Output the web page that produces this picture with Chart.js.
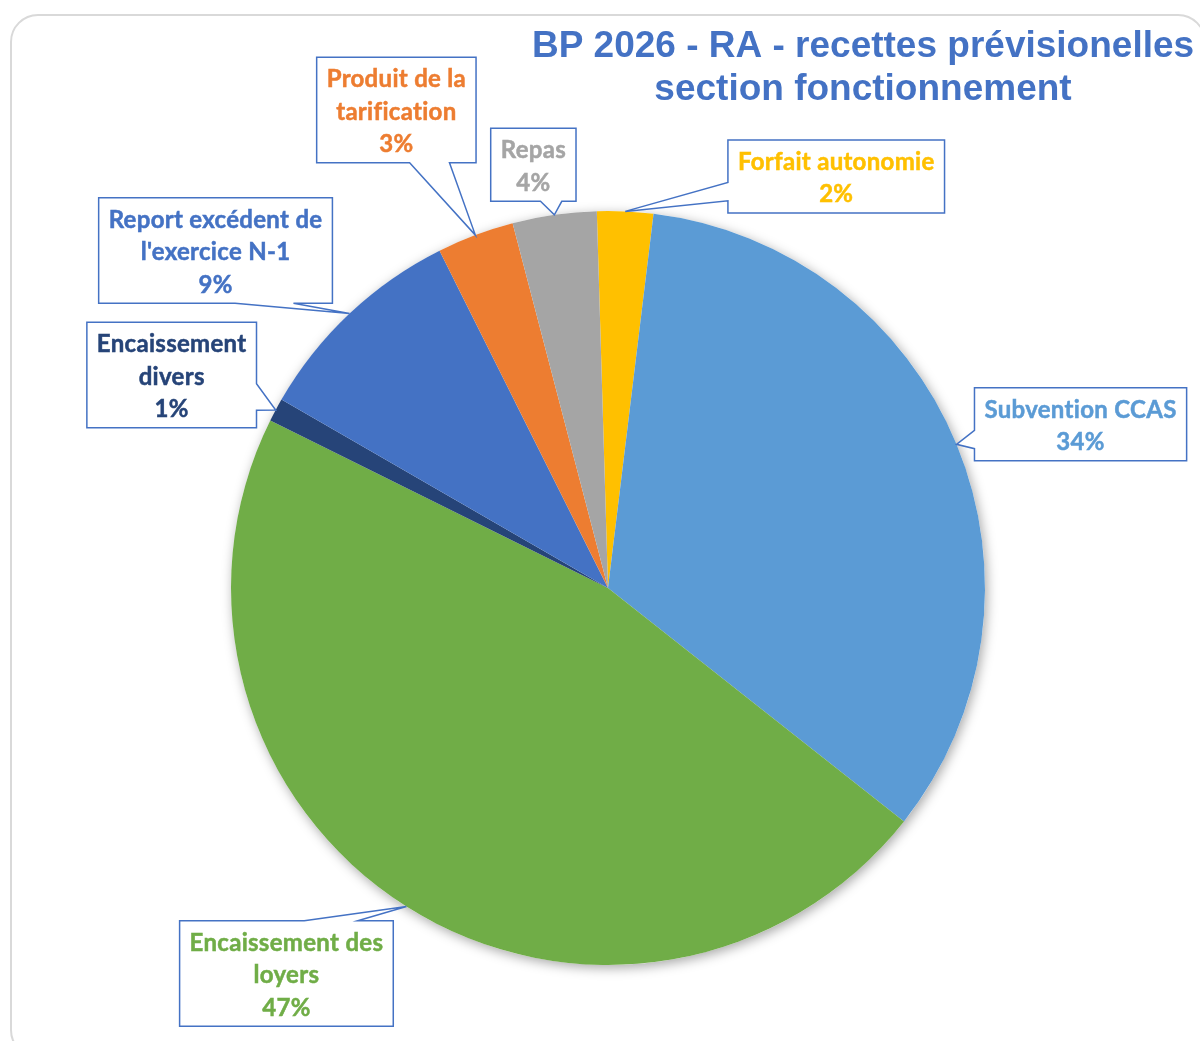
<!DOCTYPE html>
<html>
<head>
<meta charset="utf-8">
<title>BP 2026 - RA - recettes prévisionelles</title>
<script src="https://cdn.jsdelivr.net/npm/chart.js@4.4.1/dist/chart.umd.min.js"></script>
<style>
  body { margin: 0; background: #fff; }
  .frame {
    position: absolute; left: 10px; top: 14px;
    width: 1196px; height: 1044px;
    border: 2px solid #d9d9d9; border-radius: 28px;
    box-sizing: border-box;
  }
  #pie { position: absolute; left: 0; top: 0; }
</style>
</head>
<body>
<div class="frame"></div>
<canvas id="pie" width="1200" height="1041"></canvas>
<script>
// DATA
const slice_labels = ['Forfait autonomie', 'Subvention CCAS', 'Encaissement des loyers', 'Encaissement divers',
                      "Report excédent de l'exercice N-1", 'Produit de la tarification', 'Repas'];
// label text as it wraps inside each callout box
const label_lines = [
  ['Forfait autonomie'],
  ['Subvention CCAS'],
  ['Encaissement des', 'loyers'],
  ['Encaissement', 'divers'],
  ['Report excédent de', "l'exercice N-1"],
  ['Produit de la', 'tarification'],
  ['Repas']
];
const slice_values = [2.4, 33.7, 46.7, 1.0, 9.3, 3.3, 3.6];
const slice_colors = ['#FFC000', '#5B9BD5', '#70AD47', '#264478', '#4472C4', '#ED7D31', '#A5A5A5'];
const title_lines = ['BP 2026 - RA - recettes prévisionelles', 'section fonctionnement'];

// callout box centre, relative to the point where the wedge touches its slice
const callout_offsets = [[211, -35], [124, -20], [-120, 67], [-104, -35], [-134, -63], [-79, -125], [-21, -50]];

const total = slice_values.reduce((a, b) => a + b, 0);
const ctx = document.getElementById('pie').getContext('2d');

// soft shadow under the whole pie
const pieShadow = {
  id: 'pieShadow',
  beforeDatasetsDraw(chart) {
    const arc = chart.getDatasetMeta(0).data[0];
    if (!arc) return;
    const {x, y, outerRadius} = arc.getProps(['x', 'y', 'outerRadius'], true);
    const c = chart.ctx;
    c.save();
    c.shadowColor = 'rgba(0,0,0,0.35)';
    c.shadowBlur = 12;
    c.shadowOffsetX = 2;
    c.shadowOffsetY = 3;
    c.fillStyle = '#fff';
    c.beginPath();
    c.arc(x, y, outerRadius, 0, Math.PI * 2);
    c.fill();
    c.restore();
  }
};

// rectangle with a wedge pointing at (tx, ty), same rules as the office "wedgeRectCallout"
function calloutPath(c, l, t, w, h, tx, ty) {
  const r = l + w, b = t + h;
  const dx = tx - (l + w / 2), dy = ty - (t + h / 2);
  const horiz = Math.abs(dx * h) > Math.abs(dy * w);
  const x1 = l + w * (dx > 0 ? 7 : 2) / 12, x2 = l + w * (dx > 0 ? 10 : 5) / 12;
  const y1 = t + h * (dy > 0 ? 7 : 2) / 12, y2 = t + h * (dy > 0 ? 10 : 5) / 12;
  c.beginPath();
  c.moveTo(l, t);
  if (!horiz && dy < 0) { c.lineTo(x1, t); c.lineTo(tx, ty); c.lineTo(x2, t); }
  c.lineTo(r, t);
  if (horiz && dx > 0) { c.lineTo(r, y1); c.lineTo(tx, ty); c.lineTo(r, y2); }
  c.lineTo(r, b);
  if (!horiz && dy > 0) { c.lineTo(x2, b); c.lineTo(tx, ty); c.lineTo(x1, b); }
  c.lineTo(l, b);
  if (horiz && dx < 0) { c.lineTo(l, y2); c.lineTo(tx, ty); c.lineTo(l, y1); }
  c.closePath();
}

const callouts = {
  id: 'callouts',
  afterDatasetsDraw(chart) {
    const c = chart.ctx;
    const line_h = 32.5;
    c.save();
    c.font = 'bold 24px Lato';
    c.letterSpacing = '0.3px'; // also keeps "fi" from turning into a ligature
    c.textAlign = 'center';
    c.textBaseline = 'middle';
    chart.getDatasetMeta(0).data.forEach((arc, i) => {
      const p = arc.getProps(['x', 'y', 'startAngle', 'endAngle', 'outerRadius'], true);
      const mid = (p.startAngle + p.endAngle) / 2;
      const tx = p.x + p.outerRadius * Math.cos(mid);
      const ty = p.y + p.outerRadius * Math.sin(mid);
      const lines = label_lines[i].concat(Math.round(slice_values[i] / total * 100) + '%');
      const w = Math.max(...lines.map(s => c.measureText(s).width)) + 20;
      const h = lines.length * line_h + 8;
      const cx = tx + callout_offsets[i][0], cy = ty + callout_offsets[i][1];
      const l = cx - w / 2, t = cy - h / 2;
      calloutPath(c, l, t, w, h, tx, ty);
      c.fillStyle = '#fff';
      c.fill();
      c.lineWidth = 1.5;
      c.strokeStyle = '#4472C4';
      c.stroke();
      c.fillStyle = slice_colors[i];
      c.strokeStyle = slice_colors[i];
      c.lineWidth = 0.5;
      lines.forEach((s, k) => {
        const ly = t + 6 + line_h * (k + 0.5);
        c.fillText(s, cx, ly);
        c.strokeText(s, cx, ly);
      });
    });
    c.restore();
  }
};

const chartTitle = {
  id: 'chartTitle',
  afterDraw(chart) {
    const c = chart.ctx;
    c.save();
    c.font = 'bold 37px "Liberation Sans", Arial, sans-serif';
    c.fillStyle = '#4472C4';
    c.textAlign = 'center';
    c.textBaseline = 'alphabetic';
    c.fillText(title_lines[0], 863, 57);
    c.fillText(title_lines[1], 863, 100);
    c.restore();
  }
};

new Chart(ctx, {
  type: 'pie',
  data: {
    labels: slice_labels,
    datasets: [{
      data: slice_values,
      backgroundColor: slice_colors,
      borderWidth: 0,
      hoverOffset: 0,
      offset: 0
    }]
  },
  options: {
    responsive: false,
    animation: false,
    events: [],
    rotation: -1.7,
    layout: { padding: { left: 231, right: 215, top: 211, bottom: 76 } },
    plugins: {
      legend: { display: false },
      tooltip: { enabled: false },
      title: { display: false }
    }
  },
  plugins: [pieShadow, callouts, chartTitle]
});
</script>
</body>
</html>
